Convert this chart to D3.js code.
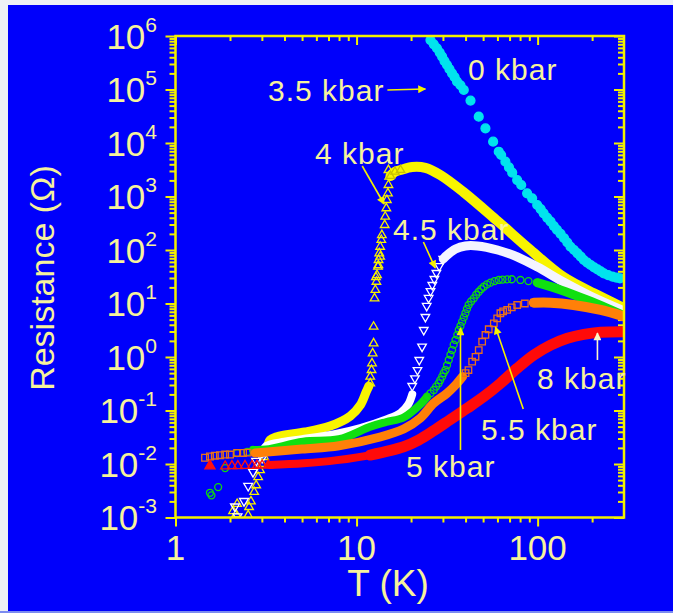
<!DOCTYPE html>
<html>
<head>
<meta charset="utf-8">
<script src="https://cdn.jsdelivr.net/npm/d3@7"></script>
<style>
  html, body { margin: 0; padding: 0; background: #eef1f5; }
  svg { display: block; }
</style>
</head>
<body>
<svg id="chart" width="673" height="613"></svg>
<script>
// ---- data: [T (K), R (ohm)] ----
const kbar0 = [[25.6,8.4e5],[26.7,7.0e5],[27.8,5.9e5],[28.8,4.9e5],[29.7,4.1e5],[30.6,3.4e5],[31.6,2.87e5],
  [32.6,2.4e5],[33.7,2.0e5],[34.8,1.7e5],[35.9,1.4e5],[37.5,1.2e5],[39.1,9.8e4],[42.6,6.2e4],[47.3,3.1e4],
  [51.5,1.88e4],[56.8,1.06e4],[61,6870],[62.9,5970],[66.4,4470],[69.5,3500],[72.4,2790],[77.1,2030],[81.2,1640],
  [87.5,1148],[93.3,925],[99.5,694],[104,580],[108,485],[113,400],[118,338],[123,280],[128,237],[134,200],[140,166],
  [146,138],[152,115],[159,100],[166,86.7],[173,75],[180,65],[188,58],[196,52.5],[205,47.5],[214,43.6],[223,40],
  [232,36.6],[245,34],[259,31.7],[272,30.5],[285,29.6]];

const kbar4Low = [[2.08,0.00132],[2.16,0.00115],[2.19,0.00179],[2.52,0.0011],[2.55,0.00157],[2.61,0.002],[2.72,0.003],
  [2.79,0.004],[2.86,0.0057],[2.93,0.0077],[3.01,0.01],[3.09,0.0135],[3.17,0.018],[3.25,0.0237]];
const kbar4BandLow = [[3.25,0.0237],[3.33,0.0281],[3.6,0.032],[4.03,0.0349],[5.2,0.0396],[7.15,0.0513],[9.23,0.0788],
  [10.5,0.127],[11.3,0.222],[11.7,0.287]];
const kbar4Mid = [[11.9,0.322],[11.9,0.428],[12.1,0.571],[12.17,0.762],[12.27,1.17],[12.42,1.8],[12.42,3.68],[12.57,12.5],
  [12.7,17.9],[12.8,31],[12.87,25.5],[12.97,34],[13.13,48.7],[13.2,52],[13.23,65],[13.5,75],[13.35,86.7],[13.5,115],
  [13.7,154],[13.8,190],[14.3,293],[14.4,419],[14.6,602],[14.7,860],[14.9,1148],[15.0,1640],[15.15,2344],[15.0,3126]];
const kbar4BandHigh = [[15.4,2415],[16.3,2900],[17.5,3126],[20.3,3557],[24,3430],[29,2520],[38.9,1213],[60,348],
  [91.4,100],[139,31.3],[214,14.4],[291,8.6]];

const kbar45Low = [[2.2,0.00105],[2.13,0.0016],[2.39,0.00203],[2.52,0.0039],[2.68,0.0071],[2.79,0.0114],[3.01,0.013]];
const kbar45BandLow = [[3.0,0.0155],[3.17,0.0217],[4.0,0.026],[5.0,0.029],[7.8,0.037],[10.5,0.047],[14.6,0.068],
  [17.5,0.09],[19.3,0.13],[20.3,0.2]];
const kbar45Mid = [[20.3,0.287],[21.0,0.4],[21.7,0.571],[22.2,0.88],[23,1.56],[23.5,3.2],[24,5.6],[24.4,9],[25,12.7],
  [25.6,17.1],[26.2,22.2],[26.9,28.7],[27.6,37.2],[28.6,50.2],[30.1,68]];
const kbar45BandHigh = [[30.1,68],[31.7,80.7],[35.2,104],[39.9,119],[46.5,119],[60,100],[77.4,74],[100,48],
  [139,25.2],[196,13.8],[291,7.6]];

const kbar5Low = [[1.55,0.0029],[1.58,0.0026],[1.72,0.0037],[1.88,0.0084],[2.19,0.016],[2.49,0.0168],[2.68,0.0183]];
const kbar5BandLow = [[2.68,0.0183],[3.17,0.0186],[5.07,0.0261],[8.0,0.029],[11.9,0.0498],[14.6,0.061],[18.2,0.074],
  [22.5,0.13],[24.5,0.181]];
const kbar5Mid = [[24.5,0.181],[25.6,0.21],[26.7,0.242],[27.5,0.28],[28.4,0.322],[29,0.37],[29.7,0.429],[30.3,0.5],
  [31,0.571],[31.6,0.7],[32.3,0.879],[33,1.1],[33.7,1.35],[34.4,1.7],[35.2,2.08],[36,2.6],[36.7,3.2],[37.5,3.8],
  [38.3,4.57],[39.1,5.5],[39.9,6.57],[40.7,7.9],[41.6,9.38],[42.9,10.9],[44.4,12.5],[45.8,14.6],[47.3,16.6],
  [48.8,18.6],[50.4,20.6],[52.5,22.7],[54.9,24.5],[57.8,26.2],[61,27.5],[64,28],[67.9,28.3],[72,28.4],[80.4,27.5],
  [89,26.2],[99.5,24.5]];
const kbar5BandHigh = [[99.5,24.5],[134,17.9],[188,11.6],[243,8.1],[294,6.1]];

const kbar55Low = [[1.456,0.0131],[1.55,0.0138],[1.65,0.0143],[1.76,0.0146],[1.88,0.015],[2.0,0.015],[2.19,0.0161],
  [2.36,0.0161],[2.5,0.0163]];
const kbar55BandLow = [[2.75,0.016],[5,0.019],[8,0.022],[13.5,0.032],[18.2,0.045],[22.5,0.072],[26.7,0.137],
  [31.6,0.21],[35.2,0.3],[38.5,0.43]];
const kbar55Mid = [[40,0.5],[41.5,0.571],[43.5,0.817],[45.4,1.01],[47.3,1.35],[49.4,1.93],[51.5,2.58],[53.7,3.3],
  [57.3,4.27],[59.8,5.28],[62.3,6.57],[64.5,7.1],[67.9,7.57],[72,8.5],[77.1,9.38],[85,10.0],[95.3,10.35]];
const kbar55BandHigh = [[95.3,10.35],[118,10.35],[158,9.38],[223,7.57],[294,5.84]];

const kbar8Filled = [[1.55,0.0092]];
const kbar8Low = [[1.88,0.0091],[2.05,0.0092],[2.21,0.0092],[2.42,0.0093],[2.65,0.0093],[2.82,0.0094],[3.01,0.0095],
  [3.25,0.0095]];
const kbar8Band = [[3.3,0.0096],[5.1,0.0103],[7.8,0.0118],[11.9,0.0147],[18.2,0.021],[22,0.028],[26.7,0.042],
  [33,0.068],[40.8,0.11],[50.4,0.181],[62.3,0.322],[77.1,0.615],[95.3,1.09],[118,1.67],[146,2.24],[180,2.65],
  [223,2.9],[294,2.97]];

// annotation arrows: [T, R] tail and head
const arrows = [
  {from:[14.8,9.8e4], to:[24,1.02e5], color:"#f4f000"},
  {from:[10.75,3720], to:[14.2,724], color:"#f4f000"},
  {from:[23.4,141], to:[27.2,46.1], color:"#f4f000"},
  {from:[37.5,0.0183], to:[37.5,3.49], color:"#f4f000"},
  {from:[83.3,0.107], to:[58.5,3.64], color:"#f4f000"},
  {from:[214,0.88], to:[214,2.81], color:"#fbf6c8"}
];
const labels = [
  {text:"0 kbar", x:468, y:80}, {text:"3.5 kbar", x:268, y:101}, {text:"4 kbar", x:315, y:164},
  {text:"4.5 kbar", x:393, y:240}, {text:"5 kbar", x:406, y:477}, {text:"5.5 kbar", x:481, y:440},
  {text:"8 kbar", x:537, y:389}
];

const xMajor = [1, 10, 100];
const xLabels = ["1", "10", "100"];
const yExp = [-3, -2, -1, 0, 1, 2, 3, 4, 5, 6];

// ---- layout ----
const svg = d3.select("#chart");
const font = "'Liberation Sans', Arial, Helvetica, sans-serif";
const axisColor = "#f2f000";
const textColor = "#f6f29c";
const pL = 175.5, pR = 624, pT = 36, pB = 517.5;

svg.append("rect").attr("x", 8).attr("y", 5).attr("width", 665).attr("height", 606).attr("fill", "#0000fb");
svg.append("rect").attr("x", 0).attr("y", 611).attr("width", 673).attr("height", 2).attr("fill", "#7b8bf0");

const x = d3.scaleLog().domain([1, 300]).range([pL, pR]);
const y = d3.scaleLog().domain([1e-3, 1e6]).range([pB, pT]);

const isDecade = v => Math.abs(Math.log10(v) - Math.round(Math.log10(v))) < 1e-6;
const xMinor = x.ticks().filter(v => !isDecade(v) && v < 300);
const yMajor = yExp.map(e => Math.pow(10, e));
const yMinor = y.ticks().filter(v => !isDecade(v));

function styleAxis(g) {
  g.select(".domain").remove();
  g.selectAll("line").attr("stroke", axisColor).attr("stroke-width", 2);
  g.selectAll("text").remove();
}

// ticks: bottom/left outward, top/right inward
svg.append("g").attr("transform", `translate(0,${pB})`)
  .call(d3.axisBottom(x).tickValues(xMajor).tickSize(9).tickFormat("")).call(styleAxis);
svg.append("g").attr("transform", `translate(0,${pB})`)
  .call(d3.axisBottom(x).tickValues(xMinor).tickSize(5).tickFormat("")).call(styleAxis);
svg.append("g").attr("transform", `translate(0,${pT})`)
  .call(d3.axisTop(x).tickValues(xMajor).tickSize(-9).tickFormat("")).call(styleAxis);
svg.append("g").attr("transform", `translate(0,${pT})`)
  .call(d3.axisTop(x).tickValues(xMinor).tickSize(-5).tickFormat("")).call(styleAxis);
svg.append("g").attr("transform", `translate(${pL},0)`)
  .call(d3.axisLeft(y).tickValues(yMajor).tickSize(10).tickFormat("")).call(styleAxis);
svg.append("g").attr("transform", `translate(${pL},0)`)
  .call(d3.axisLeft(y).tickValues(yMinor).tickSize(6).tickFormat("")).call(styleAxis);
svg.append("g").attr("transform", `translate(${pR},0)`)
  .call(d3.axisRight(y).tickValues(yMajor).tickSize(-10).tickFormat("")).call(styleAxis);
svg.append("g").attr("transform", `translate(${pR},0)`)
  .call(d3.axisRight(y).tickValues(yMinor).tickSize(-6).tickFormat("")).call(styleAxis);

// tick labels
svg.append("g").selectAll("text").data(xMajor).enter().append("text")
  .attr("x", d => x(d)).attr("y", 560).attr("text-anchor", "middle")
  .attr("font-family", font).attr("font-size", 35).attr("fill", textColor)
  .text((d, i) => xLabels[i]);

const yl = svg.append("g").selectAll("text").data(yExp).enter().append("text")
  .attr("x", 157).attr("y", d => y(Math.pow(10, d)) + 12.5).attr("text-anchor", "end")
  .attr("font-family", font).attr("fill", textColor);
yl.append("tspan").attr("font-size", 35).text("10");
yl.append("tspan").attr("font-size", 21).attr("dy", -17).text(d => d < 0 ? "-" + (-d) : String(d));

// axis titles
svg.append("text").attr("x", 388).attr("y", 596).attr("text-anchor", "middle")
  .attr("font-family", font).attr("font-size", 37).attr("fill", textColor).text("T (K)");
svg.append("text").attr("transform", "translate(54,278) rotate(-90)").attr("text-anchor", "middle")
  .attr("font-family", font).attr("font-size", 34).attr("fill", textColor).text("Resistance (\u03A9)");

// ---- plot ----
const defs = svg.append("defs");
defs.append("clipPath").attr("id", "clip")
  .append("rect").attr("x", pL).attr("y", pT).attr("width", pR - pL).attr("height", pB - pT);
const plot = svg.append("g").attr("clip-path", "url(#clip)");

const line = d3.line().x(d => x(d[0])).y(d => y(d[1])).curve(d3.curveCatmullRom.alpha(0.5));

function band(data, color, width) {
  plot.append("path").datum(data).attr("d", line).attr("fill", "none")
    .attr("stroke", color).attr("stroke-width", width)
    .attr("stroke-linecap", "round").attr("stroke-linejoin", "round");
}
function marks(data, type, size, stroke, fill, rot) {
  const sym = d3.symbol().type(type).size(size);
  plot.append("g").selectAll("path").data(data).enter().append("path")
    .attr("d", sym)
    .attr("transform", d => `translate(${x(d[0])},${y(d[1])}) rotate(${rot || 0})`)
    .attr("fill", fill || "none").attr("stroke", stroke).attr("stroke-width", 1.3);
}

// 0 kbar
marks(kbar0, d3.symbolCircle, 62, "#00e4ee", "#00e4ee");

// 4 kbar (yellow, up triangles)
marks(kbar4Low, d3.symbolTriangle, 32, "#f6f000");
band(kbar4BandLow, "#f8f400", 9);
marks(kbar4Mid, d3.symbolTriangle, 32, "#f6f000");
band(kbar4BandHigh, "#f8f400", 10);
marks(kbar4BandHigh.slice(0, 3), d3.symbolTriangle, 30, "#c8c000");

// 4.5 kbar (white, down triangles)
marks(kbar45Low, d3.symbolTriangle, 34, "#ffffff", null, 180);
band(kbar45BandLow, "#ffffff", 8);
marks(kbar45Mid, d3.symbolTriangle, 32, "#ffffff", null, 180);
band(kbar45BandHigh, "#f4f4ff", 9);

// 5 kbar (green, circles)
marks(kbar5Low, d3.symbolCircle, 38, "#10d810");
band(kbar5BandLow, "#10e010", 8);
marks(kbar5Mid, d3.symbolCircle, 38, "#10d810");
band(kbar5BandHigh, "#10e010", 9);

// 5.5 kbar (orange, squares)
marks(kbar55Low, d3.symbolSquare, 44, "#e8701c");
band(kbar55BandLow, "#ff8008", 9);
marks(kbar55Mid, d3.symbolSquare, 42, "#e8701c");
band(kbar55BandHigh, "#ff8008", 10);

// 8 kbar (red, triangles)
marks(kbar8Filled, d3.symbolTriangle, 44, "#ff1010", "#ff1010");
marks(kbar8Low, d3.symbolTriangle, 36, "#ff1010");
band(kbar8Band, "#ff0a0a", 8);
band(kbar8Band.filter(d => d[0] >= 11.9), "#ff0a0a", 11);

// frame
svg.append("rect").attr("x", pL).attr("y", pT).attr("width", pR - pL).attr("height", pB - pT)
  .attr("fill", "none").attr("stroke", axisColor).attr("stroke-width", 2.5);

// ---- annotations ----
arrows.forEach((a, i) => {
  defs.append("marker").attr("id", "ah" + i).attr("viewBox", "0 0 10 10")
    .attr("refX", 9).attr("refY", 5).attr("markerUnits", "userSpaceOnUse")
    .attr("markerWidth", 12).attr("markerHeight", 8).attr("orient", "auto")
    .append("path").attr("d", "M0,0 L10,5 L0,10 z").attr("fill", a.color);
  svg.append("line")
    .attr("x1", x(a.from[0])).attr("y1", y(a.from[1]))
    .attr("x2", x(a.to[0])).attr("y2", y(a.to[1]))
    .attr("stroke", a.color).attr("stroke-width", 1.6)
    .attr("marker-end", `url(#ah${i})`);
});

svg.append("g").selectAll("text").data(labels).enter().append("text")
  .attr("x", d => d.x).attr("y", d => d.y)
  .attr("font-family", font).attr("font-size", 30).attr("letter-spacing", 1)
  .attr("fill", textColor).text(d => d.text);
</script>
</body>
</html>
